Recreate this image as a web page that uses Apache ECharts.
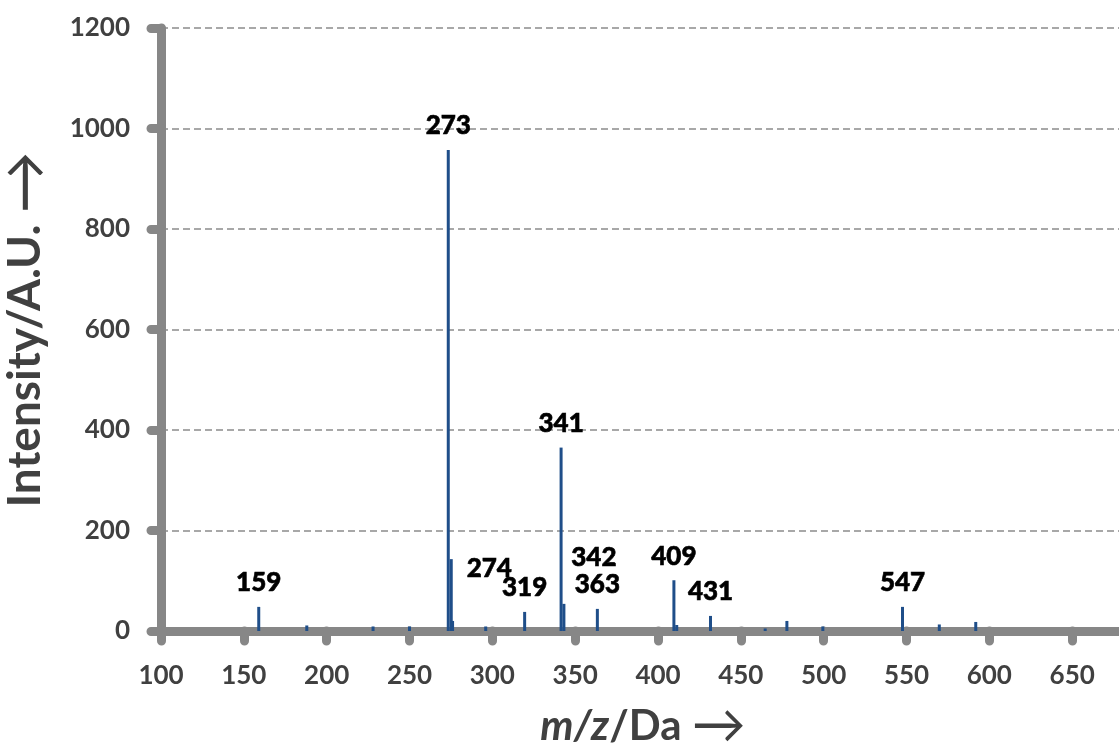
<!DOCTYPE html>
<html>
<head>
<meta charset="utf-8">
<script src="https://cdn.jsdelivr.net/npm/echarts@6/dist/echarts.min.js"></script>
<style>
html,body{margin:0;padding:0;background:#fff;overflow:hidden;}
#chart{width:1160px;height:744px;}
</style>
</head>
<body>
<div id="chart"></div>
<script>
// ---- data ----
var mzValues   = [159, 188, 228, 250, 273.4, 275.2, 276, 296, 319.5, 341.5, 343.2, 363.4, 409.6, 411.3, 431.7, 464.7, 477.8, 499.5, 547.6, 569.8, 591.8];
var intensities = [48, 11, 9, 9, 957, 143, 20, 9, 38, 365, 54, 44, 101, 12, 30, 5, 20, 9, 48, 13, 18];
var peakLabels  = ['159', '', '', '', '273', '274', '', '', '319', '341', '342', '363', '409', '', '431', '', '', '', '547', '', ''];
var xTicks = [100, 150, 200, 250, 300, 350, 400, 450, 500, 550, 600, 650];
var yTicks = [0, 200, 400, 600, 800, 1000, 1200];

// ---- label placement styling (pixels) ----
var labelOffsets = { '274': [38, 33], '342': [30, -22] };

var FONT = 'Lato, "Open Sans", sans-serif';
var AXIS_GRAY = '#878787';
var TEXT_GRAY = '#404040';

var barData = mzValues.map(function (mz, i) {
  var item = { value: [mz, intensities[i]] };
  var lbl = peakLabels[i];
  if (lbl) {
    item.label = {
      show: true,
      position: 'top',
      distance: 11,
      formatter: '{b|' + lbl + '}',
      offset: labelOffsets[lbl] || [0, 0],
      rich: { b: { fontFamily: FONT, fontWeight: 900, fontSize: 26, color: '#000000',
                   textBorderColor: '#000000', textBorderWidth: 0.6 } }
    };
  }
  return item;
});

var chart = echarts.init(document.getElementById('chart'), null, { renderer: 'canvas' });
chart.setOption({
  animation: false,
  backgroundColor: '#ffffff',
  grid: { left: 161, top: 28, bottom: 113, right: 5, outerBoundsMode: 'none', containLabel: false },
  xAxis: {
    type: 'value',
    min: 100, max: 700, interval: 50,
    name: '{i|m/z}{t|/Da }{a|\u2192}',
    nameLocation: 'middle',
    nameGap: 68,
    nameTextStyle: {
      fontFamily: FONT, fontWeight: 'bold', fontSize: 42, color: TEXT_GRAY,
      padding: [0, 30, 0, 0],
      rich: {
        i: { fontFamily: FONT, fontWeight: 'bold', fontStyle: 'italic', fontSize: 42, color: TEXT_GRAY, lineHeight: 54, verticalAlign: 'middle' },
        t: { fontFamily: FONT, fontWeight: 'bold', fontSize: 42, color: TEXT_GRAY, lineHeight: 54, verticalAlign: 'middle' },
        a: { fontFamily: FONT, fontWeight: 'normal', fontSize: 54, color: TEXT_GRAY, lineHeight: 54, verticalAlign: 'middle' }
      }
    },
    axisLine: { show: true, onZero: false, lineStyle: { color: AXIS_GRAY, width: 9, cap: 'round' } },
    axisTick: { show: true, length: 10, lineStyle: { color: AXIS_GRAY, width: 9, cap: 'round' } },
    axisLabel: {
      margin: 32, fontFamily: FONT, fontWeight: 'bold', fontSize: 26, color: TEXT_GRAY,
      formatter: function (v) { return xTicks.indexOf(v) >= 0 ? String(v) : ''; }
    },
    splitLine: { show: false }
  },
  yAxis: {
    type: 'value',
    min: 0, max: 1200, interval: 200,
    name: '{t|Intensity/A.U. }{a|\u2192}',
    nameLocation: 'middle',
    nameGap: 108,
    nameTextStyle: {
      fontFamily: FONT, fontWeight: 'bold', fontSize: 46, color: TEXT_GRAY,
      rich: {
        t: { fontFamily: FONT, fontWeight: 'bold', fontSize: 46, color: TEXT_GRAY, lineHeight: 56, verticalAlign: 'middle' },
        a: { fontFamily: FONT, fontWeight: 'normal', fontSize: 62, color: TEXT_GRAY, lineHeight: 56, verticalAlign: 'middle' }
      }
    },
    axisLine: { show: true, lineStyle: { color: AXIS_GRAY, width: 9, cap: 'round' } },
    axisTick: { show: true, length: 10, lineStyle: { color: AXIS_GRAY, width: 9, cap: 'round' } },
    axisLabel: {
      margin: 31, fontFamily: FONT, fontWeight: 'bold', fontSize: 26, color: TEXT_GRAY,
      formatter: function (v) { return yTicks.indexOf(v) >= 0 ? String(v) : ''; }
    },
    splitLine: { show: true, lineStyle: { color: '#8c8c8c', width: 1.5, type: [7, 4] } }
  },
  series: [{
    type: 'bar',
    data: barData,
    barWidth: 3,
    itemStyle: { color: '#1f4e89' },
    z: 1
  }]
});
</script>
</body>
</html>
